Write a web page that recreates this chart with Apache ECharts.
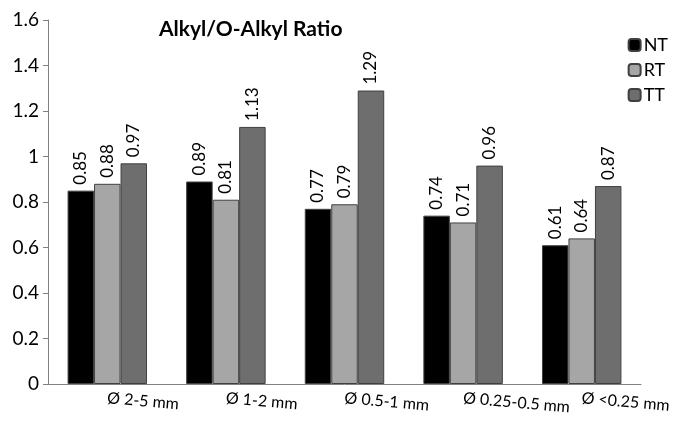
<!DOCTYPE html>
<html><head><meta charset="utf-8">
<script src="https://cdn.jsdelivr.net/npm/echarts@6/dist/echarts.min.js"></script>
<style>html,body{margin:0;padding:0;background:#fff}#c{width:679px;height:425px}</style>
</head><body><div id="c"></div>
<script>
const categories = ['Ø 2-5 mm', 'Ø 1-2 mm', 'Ø 0.5-1 mm', 'Ø 0.25-0.5 mm', 'Ø <0.25 mm'];
const NT = [0.85, 0.89, 0.77, 0.74, 0.61];
const RT = [0.88, 0.81, 0.79, 0.71, 0.64];
const TT = [0.97, 1.13, 1.29, 0.96, 0.87];
const yTicks = [0, 0.2, 0.4, 0.6, 0.8, 1, 1.2, 1.4, 1.6];
const title = 'Alkyl/O-Alkyl Ratio';

const font = 'Lato, "Open Sans", sans-serif';
function ser(name, data, color) {
  return {
    name, type: 'bar', data, barGap: '0%', barCategoryGap: '33%',
    itemStyle: { color, borderColor: '#404040', borderWidth: 1 },
    label: { show: true, position: 'top', rotate: 90, align: 'left', verticalAlign: 'middle',
      distance: 6, fontFamily: font, fontSize: 17, color: '#000',
      formatter: p => p.value.toFixed(2) }
  };
}
const chart = echarts.init(document.getElementById('c'));
chart.setOption({
  animation: false,
  title: { text: title, left: 154, top: 14, textStyle: { fontFamily: font, fontWeight: 'bold', fontSize: 21, color: '#000' } },
  legend: {
    orient: 'vertical', right: 6, top: 31, itemWidth: 12, itemHeight: 12, itemGap: 7,
    textStyle: { fontFamily: font, fontSize: 18, color: '#000', padding: [0, 0, 0, -2] },
    data: ['NT', 'RT', 'TT']
  },
  grid: { left: 48, right: 38, top: 20, bottom: 41 },
  xAxis: {
    type: 'category', data: categories,
    axisLine: { lineStyle: { color: '#808080' } },
    axisTick: { show: false },
    axisLabel: { rotate: -5, interval: 0, margin: 14, fontFamily: font, fontSize: 16, color: '#000' }
  },
  yAxis: {
    type: 'value', min: 0, max: 1.6, interval: 0.2,
    splitLine: { show: false },
    axisLine: { show: true, lineStyle: { color: '#808080' } },
    axisTick: { show: true, length: 5, lineStyle: { color: '#808080' } },
    axisLabel: { fontFamily: font, fontSize: 19, color: '#000', margin: 9,
      formatter: v => { const t = yTicks.find(x => Math.abs(x - v) < 1e-9); return t === undefined ? '' : String(t); } }
  },
  series: [ser('NT', NT, '#000000'), ser('RT', RT, '#a6a6a6'), ser('TT', TT, '#6e6e6e')]
});
</script></body></html>
